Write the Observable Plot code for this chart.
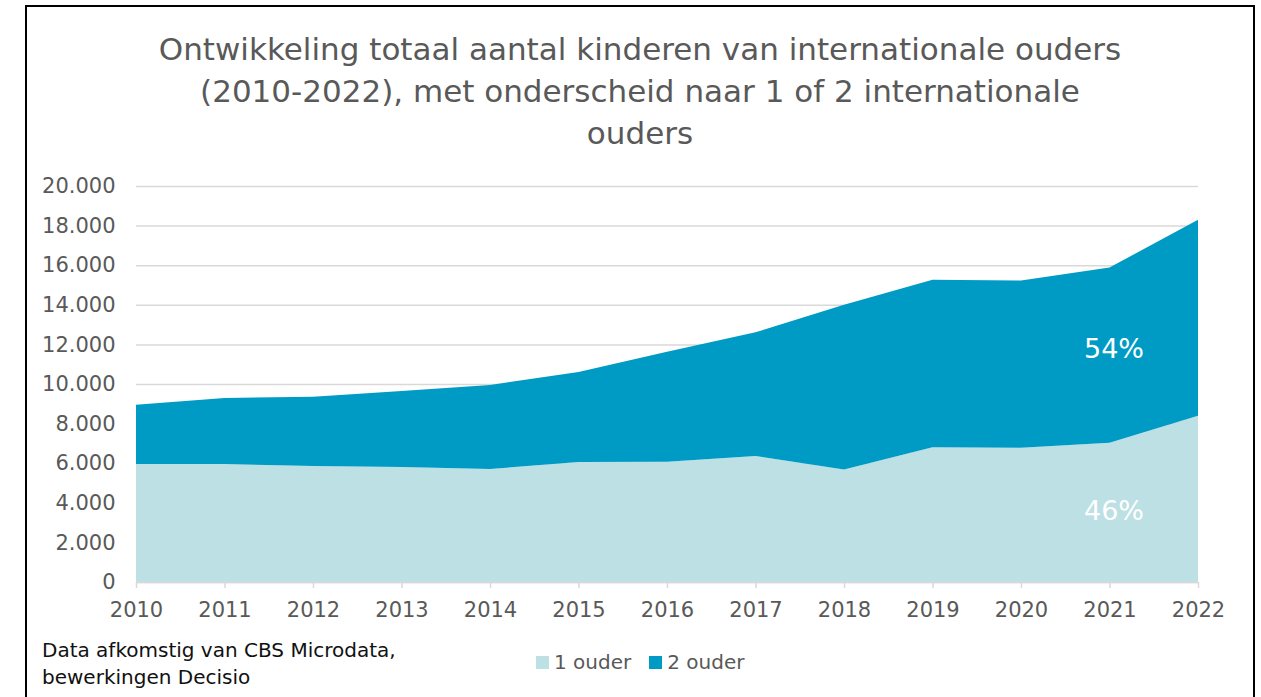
<!DOCTYPE html>
<html>
<head>
<meta charset="utf-8">
<script src="https://cdn.jsdelivr.net/npm/d3@7"></script>
<script src="https://cdn.jsdelivr.net/npm/@observablehq/plot@0.6"></script>
<style>
  html, body { margin: 0; padding: 0; background: #fff; }
  body { width: 1261px; height: 697px; position: relative; overflow: hidden; font-family: "DejaVu Sans", sans-serif; }
  #frame { position: absolute; left: 25px; top: 5px; width: 1230px; height: 720px; border: 2px solid #000; box-sizing: border-box; }
  #title { position: absolute; left: 25px; width: 1230px; top: 28px; text-align: center; font-size: 31px; line-height: 42px; color: #595959; }
  #chart { position: absolute; left: 0; top: 160px; }
  #caption { position: absolute; left: 42px; top: 637px; font-size: 20px; line-height: 27px; color: #111; }
  #legend { position: absolute; left: 536px; top: 650px; font-size: 20px; color: #595959; display: flex; align-items: center; }
  .sw { display: inline-block; width: 13px; height: 13px; margin-right: 5px; }
  .item { display: flex; align-items: center; margin-right: 18px; }
</style>
</head>
<body>
<div id="frame"></div>
<div id="title">Ontwikkeling totaal aantal kinderen van internationale ouders<br>(2010-2022), met onderscheid naar 1 of 2 internationale<br>ouders</div>
<div id="chart"></div>
<div id="caption">Data afkomstig van CBS Microdata,<br>bewerkingen Decisio</div>
<div id="legend"></div>
<script>
// ---- data ----
const years = [2010, 2011, 2012, 2013, 2014, 2015, 2016, 2017, 2018, 2019, 2020, 2021, 2022];
const oneParent = [5960, 5960, 5860, 5810, 5710, 6060, 6070, 6360, 5680, 6810, 6780, 7030, 8400];
const twoParent = [2990, 3330, 3500, 3840, 4240, 4540, 5560, 6250, 8320, 8450, 8450, 8850, 9900];
const seriesNames = ["1 ouder", "2 ouder"];
const seriesColors = ["#bce0e3", "#009bc5"];
const yTicks = [0, 2000, 4000, 6000, 8000, 10000, 12000, 14000, 16000, 18000, 20000];
const labelYears = [2021, 2021];
const labelValues = [11770, 3590];
const labelTexts = ["54%", "46%"];

// ---- table ----
const rows = [];
years.forEach((y, i) => rows.push({year: y, series: seriesNames[0], value: oneParent[i]}));
years.forEach((y, i) => rows.push({year: y, series: seriesNames[1], value: twoParent[i]}));
const labels = labelYears.map((y, i) => ({year: y, value: labelValues[i], text: labelTexts[i]}));

const nl = d3.formatLocale({decimal: ",", thousands: ".", grouping: [3], currency: ["€", ""]});
const fmt = nl.format(",");

const W = 1261, H = 480;
const chart = Plot.plot({
  width: W,
  height: H,
  marginLeft: 136,
  marginRight: 63,
  marginTop: 26,
  marginBottom: 58,
  style: {fontFamily: "DejaVu Sans, sans-serif", fontSize: "21px", color: "#595959", background: "transparent", overflow: "visible"},
  x: {domain: [years[0], years[years.length - 1]]},
  y: {domain: [0, 20000]},
  color: {domain: seriesNames, range: seriesColors},
  marks: [
    Plot.gridY(yTicks, {stroke: "#d9d9d9", strokeOpacity: 1, strokeWidth: 1.5}),
    Plot.areaY(rows, {x: "year", y: "value", z: "series", fill: "series", order: seriesNames}),
    Plot.ruleY([0], {stroke: "#d9d9d9", strokeWidth: 1.5}),
    Plot.axisY({ticks: yTicks, tickSize: 0, tickPadding: 21, tickFormat: fmt, fill: "#595959", label: null, fontSize: 21}),
    Plot.axisX({ticks: years, tickSize: 6, tickPadding: 14, tickFormat: d => String(d), stroke: "#d9d9d9", strokeWidth: 1.5, fill: "#595959", label: null, fontSize: 21}),
    Plot.text(labels, {x: "year", y: "value", text: "text", fill: "#fff", fontSize: 27, dx: 4})
  ]
});
document.getElementById("chart").appendChild(chart);

const legend = document.getElementById("legend");
seriesNames.forEach((name, i) => {
  const item = document.createElement("span");
  item.className = "item";
  const sw = document.createElement("span");
  sw.className = "sw";
  sw.style.background = seriesColors[i];
  item.appendChild(sw);
  item.appendChild(document.createTextNode(name));
  legend.appendChild(item);
});
</script>
</body>
</html>
